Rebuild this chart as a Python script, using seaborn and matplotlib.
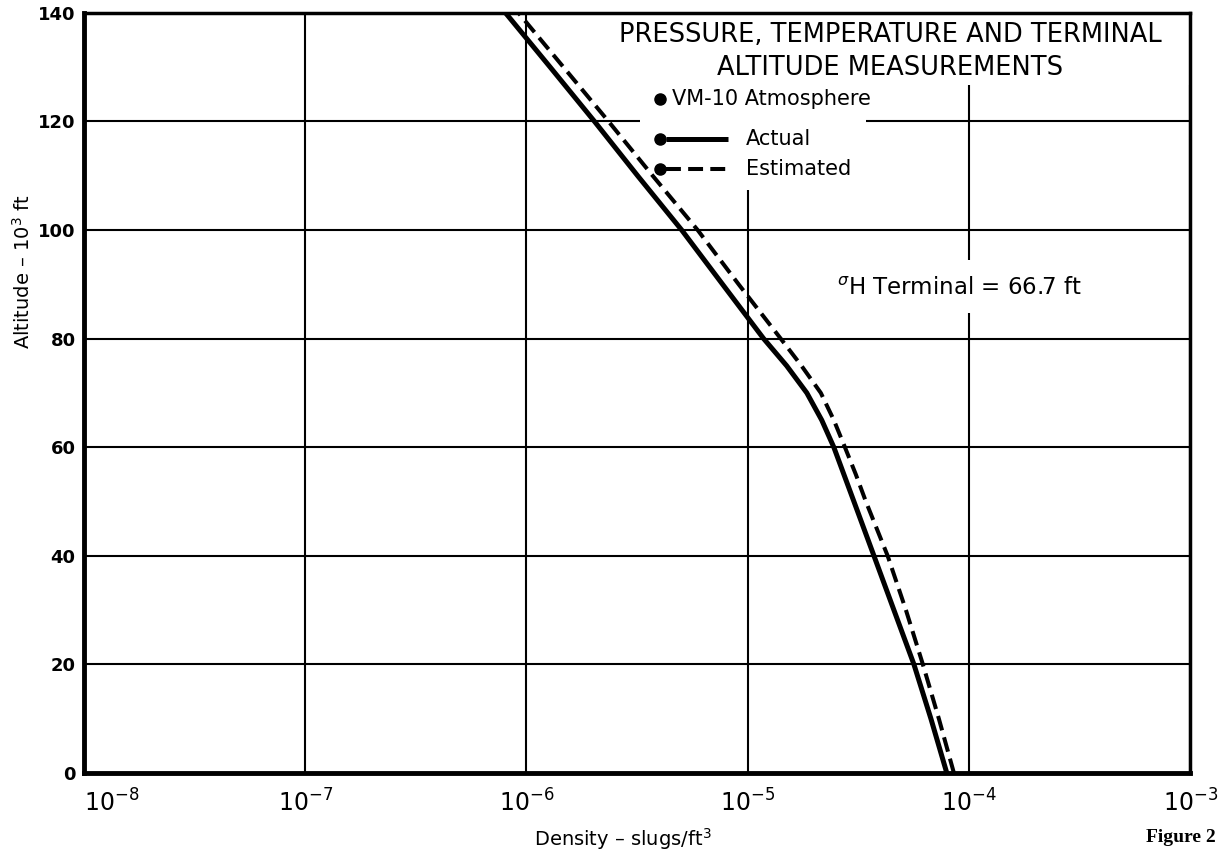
import numpy as np
import pandas as pd
import matplotlib
matplotlib.use("Agg")
import matplotlib.pyplot as plt
from matplotlib.patches import Rectangle
from matplotlib.lines import Line2D
import seaborn as sns

# Altitude (10^3 ft) and density (slugs/ft^3) profiles
altitude = [0, 10, 20, 30, 40, 50, 55, 60, 65, 70, 75, 80, 90, 100, 110, 120, 130, 140]
density_actual = [7.94e-5, 6.73e-5, 5.64e-5, 4.58e-5, 3.72e-5, 3.02e-5, 2.72e-5, 2.45e-5,
                  2.16e-5, 1.85e-5, 1.50e-5, 1.18e-5, 7.70e-6, 5.03e-6, 3.18e-6, 2.03e-6,
                  1.28e-6, 8.04e-7]
density_estimated = [8.55e-5, 7.31e-5, 6.19e-5, 5.19e-5, 4.29e-5, 3.42e-5, 3.08e-5, 2.75e-5,
                     2.45e-5, 2.14e-5, 1.75e-5, 1.41e-5, 9.10e-6, 5.94e-6, 3.72e-6, 2.35e-6,
                     1.47e-6, 9.20e-7]
series_names = ["Actual", "Estimated"]
x_ticks = [1e-8, 1e-7, 1e-6, 1e-5, 1e-4, 1e-3]
y_ticks = [0, 20, 40, 60, 80, 100, 120, 140]

df = pd.DataFrame({
    "density": density_actual + density_estimated,
    "altitude": altitude * 2,
    "series": [series_names[0]] * len(altitude) + [series_names[1]] * len(altitude),
})

sns.set_theme(style="white")
plt.rcParams["font.family"] = ["DejaVu Sans"]
for key in ["text.color", "axes.labelcolor", "xtick.color", "ytick.color"]:
    plt.rcParams[key] = "black"

fig = plt.figure(figsize=(12.22, 8.57), dpi=100)
ax = fig.add_axes([0.0687, 0.098, 0.9053, 0.887])

DASH = (3.7, 1.8)
sns.lineplot(data=df, x="density", y="altitude", style="series",
             dashes={"Actual": "", "Estimated": DASH},
             color="black", sort=False, estimator=None, legend=False,
             ax=ax, zorder=3)
for ln, lw in zip(ax.lines, [3.6, 2.9]):
    ln.set_linewidth(lw)
    ln.set_solid_capstyle("butt")
    ln.set_dash_capstyle("butt")
    ln.set_solid_joinstyle("round")

ax.set_xscale("log")
ax.set_xlim(1e-8, 1e-3)
ax.set_ylim(0, 140)
ax.set_xticks(x_ticks)
ax.set_xticklabels([r"$10^{%d}$" % int(np.log10(v)) for v in x_ticks], fontsize=17)
ax.get_xticklabels()[0].set_horizontalalignment("left")
ax.minorticks_off()
ax.set_yticks(y_ticks)
ax.set_yticklabels([str(v) for v in y_ticks], fontsize=13, fontweight="bold")
ax.tick_params(axis="x", length=0, pad=12)
ax.tick_params(axis="y", length=0, pad=6)

ax.grid(True, color="black", linewidth=1.5)
ax.set_axisbelow(True)
for side, lw in [("left", 3.5), ("bottom", 3.5), ("top", 2.5), ("right", 2.5)]:
    ax.spines[side].set_color("black")
    ax.spines[side].set_linewidth(lw)

ax.set_xlabel(r"Density – slugs/ft$^3$", fontsize=14)
ax.xaxis.set_label_coords(0.487, -0.07)
ax.set_ylabel(r"Altitude – 10$^3$ ft", fontsize=14)
ax.yaxis.set_label_coords(-0.045, 0.66)

# White panels behind the key and the annotation
for (x0, y0, w, h) in [(0.467, 0.905, 0.533, 0.095), (0.503, 0.767, 0.204, 0.14),
                       (0.675, 0.605, 0.27, 0.07)]:
    ax.add_patch(Rectangle((x0, y0), w, h, transform=ax.transAxes,
                           facecolor="white", edgecolor="none", zorder=1.5))

ax.text(0.729, 0.971, "PRESSURE, TEMPERATURE AND TERMINAL", transform=ax.transAxes,
        ha="center", va="center", fontsize=18.5, zorder=4)
ax.text(0.729, 0.928, "ALTITUDE MEASUREMENTS", transform=ax.transAxes,
        ha="center", va="center", fontsize=18.5, zorder=4)

# Key entries
key_rows = [(0.887, None, "VM-10 Atmosphere", 0.532),
            (0.834, "-", series_names[0], 0.598),
            (0.795, (0, DASH), series_names[1], 0.598)]
for y, ls, label, tx in key_rows:
    ax.add_line(Line2D([0.521], [y], transform=ax.transAxes, marker="o",
                       markersize=8, color="black", linestyle="none", zorder=4))
    if ls is not None:
        ax.add_line(Line2D([0.526, 0.582], [y, y], transform=ax.transAxes,
                           color="black", linewidth=3.6 if ls == "-" else 2.9,
                           linestyle=ls, solid_capstyle="butt", zorder=4))
    ax.text(tx, y, label, transform=ax.transAxes, ha="left", va="center",
            fontsize=15, zorder=4)

ax.text(0.681, 0.638, r"$^{\sigma}$H Terminal = 66.7 ft", transform=ax.transAxes,
        ha="left", va="center", fontsize=16.5, zorder=4)

fig.text(1146 / 1222, 1 - 838 / 857, "Figure 2", fontsize=14, fontweight="bold",
         family="Liberation Serif", ha="left", va="center")

fig.savefig("out.png", dpi=100, facecolor="white")
